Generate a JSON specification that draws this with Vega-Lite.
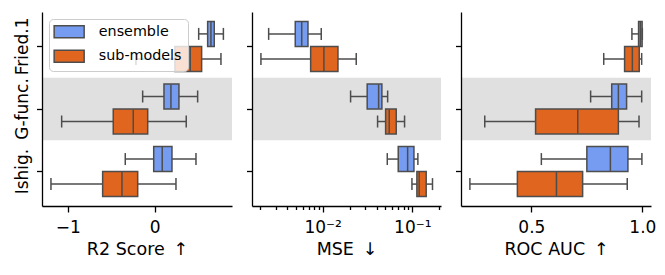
{
  "$schema": "https://vega.github.io/schema/vega-lite/v6.json",
  "background": "white",
  "padding": {"left": 13, "top": 12, "right": 0, "bottom": 0},
  "spacing": 13,
  "datasets": {
    "boxes": [
      {"metric": "R2", "dataset": "Fried.1", "model": "ensemble", "wlo": 0.506, "q1": 0.609, "med": 0.647, "q3": 0.685, "whi": 0.79},
      {"metric": "R2", "dataset": "Fried.1", "model": "sub-models", "wlo": -0.215, "q1": 0.233, "med": 0.409, "q3": 0.54, "whi": 0.762},
      {"metric": "R2", "dataset": "G-func.", "model": "ensemble", "wlo": -0.138, "q1": 0.107, "med": 0.187, "q3": 0.279, "whi": 0.494},
      {"metric": "R2", "dataset": "G-func.", "model": "sub-models", "wlo": -1.069, "q1": -0.476, "med": -0.246, "q3": -0.08, "whi": 0.363},
      {"metric": "R2", "dataset": "Ishig.", "model": "ensemble", "wlo": -0.338, "q1": -0.011, "med": 0.087, "q3": 0.199, "whi": 0.475},
      {"metric": "R2", "dataset": "Ishig.", "model": "sub-models", "wlo": -1.192, "q1": -0.598, "med": -0.376, "q3": -0.195, "whi": 0.245},
      {"metric": "MSE", "dataset": "Fried.1", "model": "ensemble", "wlo": 0.0025, "q1": 0.00495, "med": 0.00584, "q3": 0.00686, "whi": 0.00965},
      {"metric": "MSE", "dataset": "Fried.1", "model": "sub-models", "wlo": 0.00205, "q1": 0.00735, "med": 0.01033, "q3": 0.01482, "whi": 0.0237},
      {"metric": "MSE", "dataset": "G-func.", "model": "ensemble", "wlo": 0.0205, "q1": 0.0314, "med": 0.0421, "q3": 0.0458, "whi": 0.0531},
      {"metric": "MSE", "dataset": "G-func.", "model": "sub-models", "wlo": 0.041, "q1": 0.0504, "med": 0.0553, "q3": 0.0662, "whi": 0.082},
      {"metric": "MSE", "dataset": "Ishig.", "model": "ensemble", "wlo": 0.0526, "q1": 0.0697, "med": 0.0887, "q3": 0.1043, "whi": 0.1154},
      {"metric": "MSE", "dataset": "Ishig.", "model": "sub-models", "wlo": 0.0991, "q1": 0.1125, "med": 0.1193, "q3": 0.1429, "whi": 0.168},
      {"metric": "ROC", "dataset": "Fried.1", "model": "ensemble", "wlo": 0.953, "q1": 0.983, "med": 0.991, "q3": 0.999, "whi": 1.0},
      {"metric": "ROC", "dataset": "Fried.1", "model": "sub-models", "wlo": 0.826, "q1": 0.92, "med": 0.955, "q3": 0.986, "whi": 0.997},
      {"metric": "ROC", "dataset": "G-func.", "model": "ensemble", "wlo": 0.767, "q1": 0.862, "med": 0.892, "q3": 0.929, "whi": 0.997},
      {"metric": "ROC", "dataset": "G-func.", "model": "sub-models", "wlo": 0.29, "q1": 0.519, "med": 0.709, "q3": 0.892, "whi": 0.985},
      {"metric": "ROC", "dataset": "Ishig.", "model": "ensemble", "wlo": 0.545, "q1": 0.75, "med": 0.856, "q3": 0.935, "whi": 0.998},
      {"metric": "ROC", "dataset": "Ishig.", "model": "sub-models", "wlo": 0.223, "q1": 0.437, "med": 0.613, "q3": 0.731, "whi": 0.932}
    ]
  },
  "resolve": {"legend": {"fill": "independent"}},
  "hconcat": [
    {
      "width": 190, "height": 194,
      "data": {"name": "boxes"},
      "transform": [{"filter": "datum.metric == 'R2'"}],
      "encoding": {
        "y": {"field": "dataset", "type": "nominal",
          "scale": {"type": "band", "domain": ["Fried.1", "G-func.", "Ishig."], "paddingInner": 0, "paddingOuter": 0.05},
          "axis": {"title": null, "labelAngle": 270, "labelAlign": "center", "labelBaseline": "alphabetic", "labelPadding": 9, "tickSize": 5.5, "labelFontSize": 17}}
      },
      "layer": [
        {"data": {"values": [{"dataset": "G-func."}]}, "mark": {"type": "rect", "color": "#e0e0e0"},
          "encoding": {"x": {"value": 0}, "x2": {"value": "width"}}},
        {"mark": {"type": "rule", "color": "#4d4d4d", "strokeWidth": 1.5},
          "encoding": {
            "x": {"field": "wlo", "type": "quantitative", "title": "R2 Score\u2002↑", "scale": {"domain": [-1.295, 0.889], "nice": false, "zero": false}, "axis": {"values": [-1, 0], "labelExpr": "datum.value == -1 ? '−1' : '0'"}},
            "x2": {"field": "whi"},
            "yOffset": {"field": "model", "type": "nominal", "scale": {"domain": ["ensemble", "sub-models"], "paddingInner": 0, "paddingOuter": 0.25}}}},
        {"mark": {"type": "bar", "stroke": "#4d4d4d", "strokeWidth": 1.5},
          "encoding": {
            "x": {"field": "q1", "type": "quantitative", "title": "R2 Score\u2002↑", "scale": {"domain": [-1.295, 0.889], "nice": false, "zero": false}, "axis": {"values": [-1, 0], "labelExpr": "datum.value == -1 ? '−1' : '0'"}},
            "x2": {"field": "q3"},
            "yOffset": {"field": "model", "type": "nominal", "scale": {"domain": ["ensemble", "sub-models"], "paddingInner": 0, "paddingOuter": 0.25}},
            "fill": {"field": "model", "type": "nominal", "scale": {"domain": ["ensemble", "sub-models"], "range": ["#759cf0", "#e0651e"]},
              "legend": {"orient": "top-left", "offset": 7, "title": null, "padding": 5.5, "rowPadding": 5.5, "labelFontSize": 14.3, "labelOffset": 22.5, "symbolType": "M-2.5,-1h5v2h-5z", "symbolSize": 144, "symbolOffset": 7.5, "symbolStrokeColor": "#4d4d4d", "symbolStrokeWidth": 1.5, "symbolOpacity": 1, "fillColor": "rgba(255,255,255,0.8)", "strokeColor": "#cccccc", "cornerRadius": 4, "labelColor": "#000000"}}}},
        {"mark": {"type": "tick", "color": "#4d4d4d", "thickness": 1.5, "size": 24, "opacity": 1},
          "encoding": {
            "x": {"field": "med", "type": "quantitative", "title": "R2 Score\u2002↑", "scale": {"domain": [-1.295, 0.889], "nice": false, "zero": false}, "axis": {"values": [-1, 0], "labelExpr": "datum.value == -1 ? '−1' : '0'"}},
            "yOffset": {"field": "model", "type": "nominal", "scale": {"domain": ["ensemble", "sub-models"], "paddingInner": 0, "paddingOuter": 0.25}}}},
        {"mark": {"type": "tick", "color": "#4d4d4d", "thickness": 1.5, "size": 12, "opacity": 1},
          "encoding": {
            "x": {"field": "wlo", "type": "quantitative", "title": "R2 Score\u2002↑", "scale": {"domain": [-1.295, 0.889], "nice": false, "zero": false}, "axis": {"values": [-1, 0], "labelExpr": "datum.value == -1 ? '−1' : '0'"}},
            "yOffset": {"field": "model", "type": "nominal", "scale": {"domain": ["ensemble", "sub-models"], "paddingInner": 0, "paddingOuter": 0.25}}}},
        {"mark": {"type": "tick", "color": "#4d4d4d", "thickness": 1.5, "size": 12, "opacity": 1},
          "encoding": {
            "x": {"field": "whi", "type": "quantitative", "title": "R2 Score\u2002↑", "scale": {"domain": [-1.295, 0.889], "nice": false, "zero": false}, "axis": {"values": [-1, 0], "labelExpr": "datum.value == -1 ? '−1' : '0'"}},
            "yOffset": {"field": "model", "type": "nominal", "scale": {"domain": ["ensemble", "sub-models"], "paddingInner": 0, "paddingOuter": 0.25}}}}
      ]
    },
    {
      "width": 189, "height": 194,
      "data": {"name": "boxes"},
      "transform": [{"filter": "datum.metric == 'MSE'"}],
      "encoding": {
        "y": {"field": "dataset", "type": "nominal",
          "scale": {"type": "band", "domain": ["Fried.1", "G-func.", "Ishig."], "paddingInner": 0, "paddingOuter": 0.05},
          "axis": {"title": null, "labels": false, "tickSize": 5.5}}
      },
      "layer": [
        {"data": {"values": [{"dataset": "G-func."}]}, "mark": {"type": "rect", "color": "#e0e0e0"},
          "encoding": {"x": {"value": 0}, "x2": {"value": "width"}}},
        {"mark": {"type": "rule", "color": "#4d4d4d", "strokeWidth": 1.5},
          "encoding": {
            "x": {"field": "wlo", "type": "quantitative", "title": "MSE\u2002↓", "scale": {"type": "log", "domain": [0.00163, 0.209], "nice": false}, "axis": {"values": [0.002, 0.003, 0.004, 0.005, 0.006, 0.007, 0.008, 0.009, 0.01, 0.02, 0.03, 0.04, 0.05, 0.06, 0.07, 0.08, 0.09, 0.1, 0.2], "labelExpr": "datum.value == 0.01 ? '10⁻²' : (datum.value == 0.1 ? '10⁻¹' : '')", "tickSize": {"condition": {"test": "datum.value == 0.01 || datum.value == 0.1", "value": 6}, "value": 3.5}}},
            "x2": {"field": "whi"},
            "yOffset": {"field": "model", "type": "nominal", "scale": {"domain": ["ensemble", "sub-models"], "paddingInner": 0, "paddingOuter": 0.25}}}},
        {"mark": {"type": "bar", "stroke": "#4d4d4d", "strokeWidth": 1.5},
          "encoding": {
            "x": {"field": "q1", "type": "quantitative", "title": "MSE\u2002↓", "scale": {"type": "log", "domain": [0.00163, 0.209], "nice": false}, "axis": {"values": [0.002, 0.003, 0.004, 0.005, 0.006, 0.007, 0.008, 0.009, 0.01, 0.02, 0.03, 0.04, 0.05, 0.06, 0.07, 0.08, 0.09, 0.1, 0.2], "labelExpr": "datum.value == 0.01 ? '10⁻²' : (datum.value == 0.1 ? '10⁻¹' : '')", "tickSize": {"condition": {"test": "datum.value == 0.01 || datum.value == 0.1", "value": 6}, "value": 3.5}}},
            "x2": {"field": "q3"},
            "yOffset": {"field": "model", "type": "nominal", "scale": {"domain": ["ensemble", "sub-models"], "paddingInner": 0, "paddingOuter": 0.25}},
            "fill": {"field": "model", "type": "nominal", "scale": {"domain": ["ensemble", "sub-models"], "range": ["#759cf0", "#e0651e"]}, "legend": null}}},
        {"mark": {"type": "tick", "color": "#4d4d4d", "thickness": 1.5, "size": 24, "opacity": 1},
          "encoding": {
            "x": {"field": "med", "type": "quantitative", "title": "MSE\u2002↓", "scale": {"type": "log", "domain": [0.00163, 0.209], "nice": false}, "axis": {"values": [0.002, 0.003, 0.004, 0.005, 0.006, 0.007, 0.008, 0.009, 0.01, 0.02, 0.03, 0.04, 0.05, 0.06, 0.07, 0.08, 0.09, 0.1, 0.2], "labelExpr": "datum.value == 0.01 ? '10⁻²' : (datum.value == 0.1 ? '10⁻¹' : '')", "tickSize": {"condition": {"test": "datum.value == 0.01 || datum.value == 0.1", "value": 6}, "value": 3.5}}},
            "yOffset": {"field": "model", "type": "nominal", "scale": {"domain": ["ensemble", "sub-models"], "paddingInner": 0, "paddingOuter": 0.25}}}},
        {"mark": {"type": "tick", "color": "#4d4d4d", "thickness": 1.5, "size": 12, "opacity": 1},
          "encoding": {
            "x": {"field": "wlo", "type": "quantitative", "title": "MSE\u2002↓", "scale": {"type": "log", "domain": [0.00163, 0.209], "nice": false}, "axis": {"values": [0.002, 0.003, 0.004, 0.005, 0.006, 0.007, 0.008, 0.009, 0.01, 0.02, 0.03, 0.04, 0.05, 0.06, 0.07, 0.08, 0.09, 0.1, 0.2], "labelExpr": "datum.value == 0.01 ? '10⁻²' : (datum.value == 0.1 ? '10⁻¹' : '')", "tickSize": {"condition": {"test": "datum.value == 0.01 || datum.value == 0.1", "value": 6}, "value": 3.5}}},
            "yOffset": {"field": "model", "type": "nominal", "scale": {"domain": ["ensemble", "sub-models"], "paddingInner": 0, "paddingOuter": 0.25}}}},
        {"mark": {"type": "tick", "color": "#4d4d4d", "thickness": 1.5, "size": 12, "opacity": 1},
          "encoding": {
            "x": {"field": "whi", "type": "quantitative", "title": "MSE\u2002↓", "scale": {"type": "log", "domain": [0.00163, 0.209], "nice": false}, "axis": {"values": [0.002, 0.003, 0.004, 0.005, 0.006, 0.007, 0.008, 0.009, 0.01, 0.02, 0.03, 0.04, 0.05, 0.06, 0.07, 0.08, 0.09, 0.1, 0.2], "labelExpr": "datum.value == 0.01 ? '10⁻²' : (datum.value == 0.1 ? '10⁻¹' : '')", "tickSize": {"condition": {"test": "datum.value == 0.01 || datum.value == 0.1", "value": 6}, "value": 3.5}}},
            "yOffset": {"field": "model", "type": "nominal", "scale": {"domain": ["ensemble", "sub-models"], "paddingInner": 0, "paddingOuter": 0.25}}}}
      ]
    },
    {
      "width": 190, "height": 194,
      "data": {"name": "boxes"},
      "transform": [{"filter": "datum.metric == 'ROC'"}],
      "encoding": {
        "y": {"field": "dataset", "type": "nominal",
          "scale": {"type": "band", "domain": ["Fried.1", "G-func.", "Ishig."], "paddingInner": 0, "paddingOuter": 0.05},
          "axis": {"title": null, "labels": false, "tickSize": 5.5}}
      },
      "layer": [
        {"data": {"values": [{"dataset": "G-func."}]}, "mark": {"type": "rect", "color": "#e0e0e0"},
          "encoding": {"x": {"value": 0}, "x2": {"value": "width"}}},
        {"mark": {"type": "rule", "color": "#4d4d4d", "strokeWidth": 1.5},
          "encoding": {
            "x": {"field": "wlo", "type": "quantitative", "title": "ROC AUC\u2002↑", "scale": {"domain": [0.183, 1.039], "nice": false, "zero": false}, "axis": {"values": [0.5, 1.0], "format": ".1f"}},
            "x2": {"field": "whi"},
            "yOffset": {"field": "model", "type": "nominal", "scale": {"domain": ["ensemble", "sub-models"], "paddingInner": 0, "paddingOuter": 0.25}}}},
        {"mark": {"type": "bar", "stroke": "#4d4d4d", "strokeWidth": 1.5},
          "encoding": {
            "x": {"field": "q1", "type": "quantitative", "title": "ROC AUC\u2002↑", "scale": {"domain": [0.183, 1.039], "nice": false, "zero": false}, "axis": {"values": [0.5, 1.0], "format": ".1f"}},
            "x2": {"field": "q3"},
            "yOffset": {"field": "model", "type": "nominal", "scale": {"domain": ["ensemble", "sub-models"], "paddingInner": 0, "paddingOuter": 0.25}},
            "fill": {"field": "model", "type": "nominal", "scale": {"domain": ["ensemble", "sub-models"], "range": ["#759cf0", "#e0651e"]}, "legend": null}}},
        {"mark": {"type": "tick", "color": "#4d4d4d", "thickness": 1.5, "size": 24, "opacity": 1},
          "encoding": {
            "x": {"field": "med", "type": "quantitative", "title": "ROC AUC\u2002↑", "scale": {"domain": [0.183, 1.039], "nice": false, "zero": false}, "axis": {"values": [0.5, 1.0], "format": ".1f"}},
            "yOffset": {"field": "model", "type": "nominal", "scale": {"domain": ["ensemble", "sub-models"], "paddingInner": 0, "paddingOuter": 0.25}}}},
        {"mark": {"type": "tick", "color": "#4d4d4d", "thickness": 1.5, "size": 12, "opacity": 1},
          "encoding": {
            "x": {"field": "wlo", "type": "quantitative", "title": "ROC AUC\u2002↑", "scale": {"domain": [0.183, 1.039], "nice": false, "zero": false}, "axis": {"values": [0.5, 1.0], "format": ".1f"}},
            "yOffset": {"field": "model", "type": "nominal", "scale": {"domain": ["ensemble", "sub-models"], "paddingInner": 0, "paddingOuter": 0.25}}}},
        {"mark": {"type": "tick", "color": "#4d4d4d", "thickness": 1.5, "size": 12, "opacity": 1},
          "encoding": {
            "x": {"field": "whi", "type": "quantitative", "title": "ROC AUC\u2002↑", "scale": {"domain": [0.183, 1.039], "nice": false, "zero": false}, "axis": {"values": [0.5, 1.0], "format": ".1f"}},
            "yOffset": {"field": "model", "type": "nominal", "scale": {"domain": ["ensemble", "sub-models"], "paddingInner": 0, "paddingOuter": 0.25}}}}
      ]
    }
  ],
  "config": {
    "font": "DejaVu Sans",
    "view": {"stroke": null},
    "axis": {"grid": false, "domainColor": "#000000", "domainWidth": 1.3, "tickColor": "#000000", "tickWidth": 1.3, "tickSize": 6, "labelFontSize": 17, "labelColor": "#000000", "labelPadding": 7, "labelFlush": false, "labelOverlap": false, "titleFontSize": 17.5, "titleFontWeight": "normal", "titleColor": "#000000", "titlePadding": 5}
  }
}
